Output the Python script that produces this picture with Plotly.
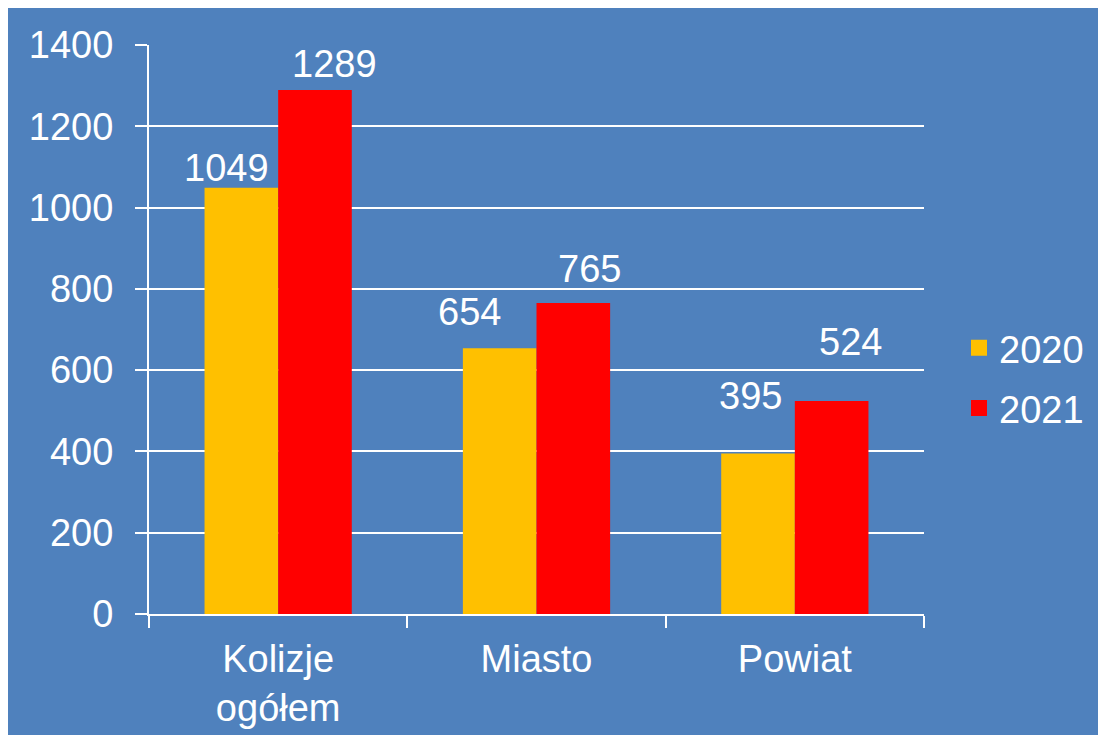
import plotly.graph_objects as go

categories = ["Kolizje<br>ogółem", "Miasto", "Powiat"]
series_names = ["2020", "2021"]
values_2020 = [1049, 654, 395]
values_2021 = [1289, 765, 524]
y_ticks = [0, 200, 400, 600, 800, 1000, 1200, 1400]

# styling
BLUE = "#4F81BD"
GOLD = "#FFC000"
RED = "#FF0000"
FONT = "Liberation Sans, Arial, sans-serif"
FS = 38
# label placement offsets (pixels) relative to category centre / bar top
label_dx_2020 = [-52, -67, -44]
label_dx_2021 = [56, 53, 56]
label_dy_2020 = [20, 36, 57]
label_dy_2021 = [26, 34, 59]

# figure sits inside the page's 8px body margin
W, H = 1090, 727
L, R, T, B = 141, 174, 37, 121
pw, ph = W - L - R, H - T - B

fig = go.Figure()
fig.add_trace(go.Bar(x=categories, y=values_2020, name=series_names[0],
                     marker=dict(color=GOLD, line=dict(width=0)), showlegend=False))
fig.add_trace(go.Bar(x=categories, y=values_2021, name=series_names[1],
                     marker=dict(color=RED, line=dict(width=0)), showlegend=False))
# legend entries with larger square symbols
for nm, col in zip(series_names, [GOLD, RED]):
    fig.add_trace(go.Scatter(x=[None], y=[None], mode="markers", name=nm,
                             legendgroup=nm,
                             marker=dict(symbol="square", size=20, color=col)))

annotations = []
for vals, dxs, dys in [(values_2020, label_dx_2020, label_dy_2020),
                       (values_2021, label_dx_2021, label_dy_2021)]:
    for c, v, dx, dy in zip(categories, vals, dxs, dys):
        annotations.append(dict(x=c, y=v, xref="x", yref="y", text=str(v),
                                showarrow=False, xshift=dx, yshift=dy,
                                yanchor="middle", xanchor="center",
                                font=dict(size=FS, color="white", family=FONT)))

def px_x(p):
    return (p - L) / pw

def px_y(p):
    return (H - B - p) / ph

fig.update_layout(
    width=W, height=H,
    margin=dict(l=L, r=R, t=T, b=B, pad=0, autoexpand=False),
    paper_bgcolor=BLUE,
    plot_bgcolor=BLUE,
    barmode="group", bargap=0.43, bargroupgap=0,
    font=dict(family=FONT, size=FS, color="white"),
    annotations=annotations,
    legend=dict(x=px_x(951), xanchor="left", y=px_y(370), yanchor="middle",
                font=dict(size=FS, color="white", family=FONT),
                bgcolor="rgba(0,0,0,0)", tracegroupgap=8,
                traceorder="grouped", itemwidth=30),
    xaxis=dict(showline=True, linecolor="white", linewidth=2,
               ticks="outside", tickson="boundaries", ticklen=12,
               tickcolor="white", tickwidth=2, automargin=False,
               tickfont=dict(size=FS, color="white", family=FONT),
               showgrid=False, ticklabelstandoff=10),
    yaxis=dict(range=[0, 1400], tickvals=y_ticks, automargin=False,
               showline=True, linecolor="white", linewidth=2,
               ticks="outside", ticklen=12, tickcolor="white", tickwidth=2,
               showgrid=True, gridcolor="white", gridwidth=2,
               zeroline=False,
               tickfont=dict(size=FS, color="white", family=FONT),
               ticklabelstandoff=14),
)

fig.write_html("out.html")
